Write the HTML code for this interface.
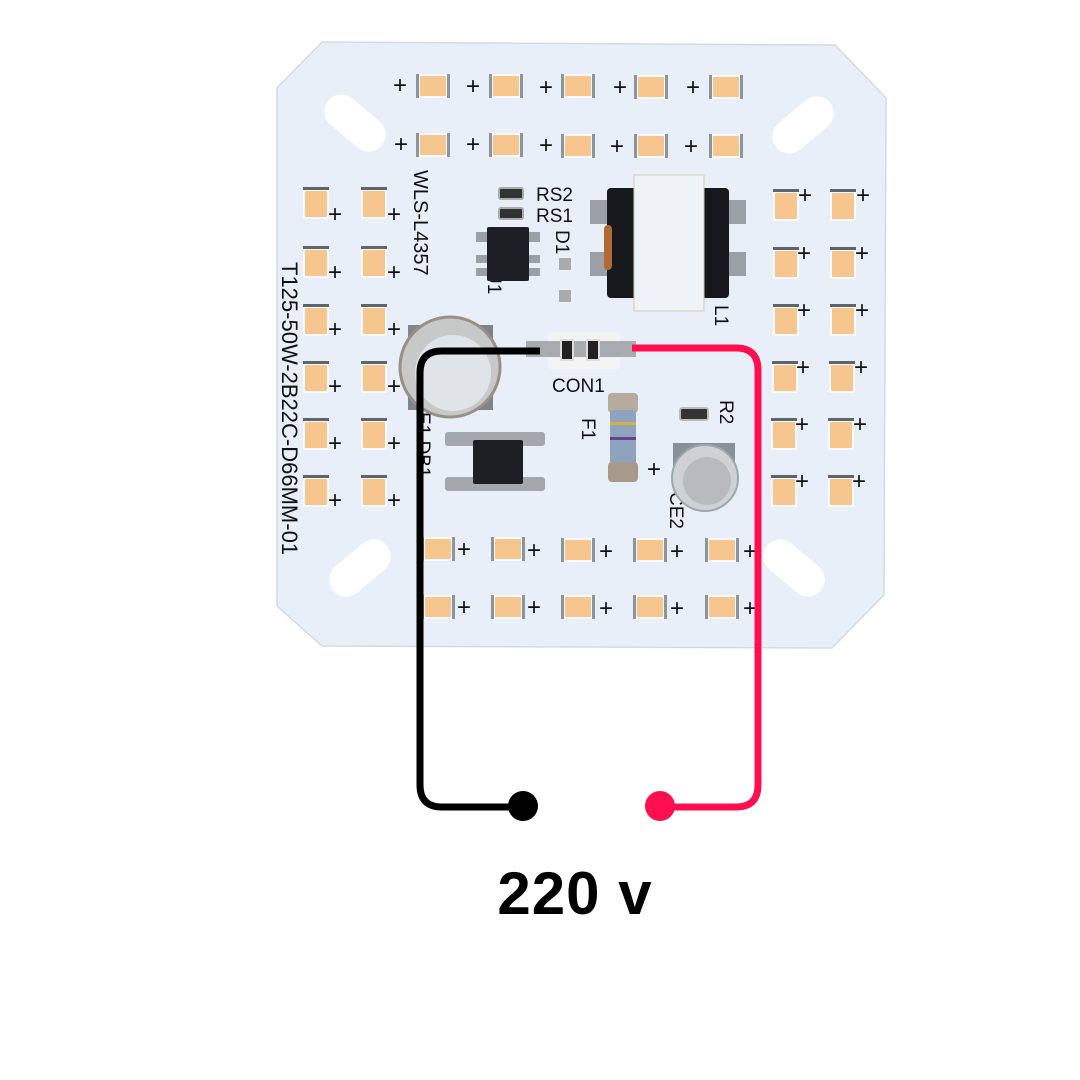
<!DOCTYPE html>
<html><head><meta charset="utf-8"><style>
html,body{margin:0;padding:0;background:#fff;}
svg{display:block;}
text{font-family:"Liberation Sans",sans-serif;}
</style></head><body>
<svg width="1080" height="1080" viewBox="0 0 1080 1080" xmlns="http://www.w3.org/2000/svg">
<defs>
<g id="led">
<rect x="-17" y="-12" width="34" height="24" rx="2" fill="#fbfbfb"/>
<rect x="-17" y="-12" width="3" height="24" fill="#8d949c"/>
<rect x="14" y="-12" width="3" height="24" fill="#8d949c"/>
<rect x="-13" y="-10" width="26" height="20" rx="1" fill="#f7c58e"/>
</g>
<g id="ledv">
<rect x="-13" y="-16" width="26" height="32" rx="2" fill="#fbfbfb"/>
<rect x="-13" y="-16" width="26" height="3" fill="#5d646c"/>
<rect x="-11" y="-12" width="22" height="26" rx="1" fill="#f7c58e"/>
</g>
</defs>
<polygon points="277,88 322,42 835,45 886,98 884,595 832,648 322,646 277,606" fill="#e9eff8" stroke="#d4dae4" stroke-width="1.5"/>
<!-- mounting slots -->
<g fill="#fff">
<rect x="320" y="106" width="70" height="34" rx="17" transform="rotate(40 355 123)"/>
<rect x="768" y="108" width="70" height="34" rx="17" transform="rotate(-40 803 125)"/>
<rect x="325" y="551" width="70" height="34" rx="17" transform="rotate(-40 360 568)"/>
<rect x="759" y="551" width="70" height="34" rx="17" transform="rotate(40 794 568)"/>
</g>
<!-- top rows -->
<g font-size="24" fill="#111">
<use href="#led" x="433" y="86"/><use href="#led" x="506" y="86"/><use href="#led" x="578" y="86"/><use href="#led" x="651" y="87"/><use href="#led" x="726" y="87"/>
<use href="#led" x="433" y="145"/><use href="#led" x="506" y="145"/><use href="#led" x="578" y="146"/><use href="#led" x="651" y="146"/><use href="#led" x="726" y="146"/>
<text x="393" y="93">+</text><text x="466" y="94">+</text><text x="539" y="95">+</text><text x="613" y="95">+</text><text x="686" y="95">+</text>
<text x="394" y="152">+</text><text x="466" y="152">+</text><text x="539" y="153">+</text><text x="610" y="154">+</text><text x="684" y="154">+</text>
</g>
<!-- left columns -->
<g font-size="24" fill="#111">
<use href="#ledv" x="316" y="203"/><use href="#ledv" x="374" y="203"/>
<use href="#ledv" x="316" y="262"/><use href="#ledv" x="374" y="262"/>
<use href="#ledv" x="316" y="320"/><use href="#ledv" x="374" y="320"/>
<use href="#ledv" x="316" y="377"/><use href="#ledv" x="374" y="377"/>
<use href="#ledv" x="316" y="434"/><use href="#ledv" x="374" y="434"/>
<use href="#ledv" x="316" y="491"/><use href="#ledv" x="374" y="491"/>
<text x="328" y="222">+</text><text x="387" y="222">+</text>
<text x="328" y="280">+</text><text x="387" y="280">+</text>
<text x="328" y="337">+</text><text x="387" y="337">+</text>
<text x="328" y="394">+</text><text x="387" y="394">+</text>
<text x="328" y="451">+</text><text x="387" y="451">+</text>
<text x="328" y="508">+</text><text x="387" y="508">+</text>
</g>
<!-- right columns -->
<g font-size="24" fill="#111">
<use href="#ledv" x="786" y="205"/><use href="#ledv" x="843" y="205"/>
<use href="#ledv" x="786" y="263"/><use href="#ledv" x="843" y="263"/>
<use href="#ledv" x="786" y="320"/><use href="#ledv" x="843" y="320"/>
<use href="#ledv" x="785" y="377"/><use href="#ledv" x="842" y="377"/>
<use href="#ledv" x="784" y="434"/><use href="#ledv" x="841" y="434"/>
<use href="#ledv" x="784" y="491"/><use href="#ledv" x="841" y="491"/>
<text x="798" y="203">+</text><text x="856" y="203">+</text>
<text x="797" y="261">+</text><text x="855" y="261">+</text>
<text x="797" y="318">+</text><text x="855" y="318">+</text>
<text x="796" y="375">+</text><text x="854" y="375">+</text>
<text x="795" y="432">+</text><text x="853" y="432">+</text>
<text x="795" y="489">+</text><text x="852" y="489">+</text>
</g>
<!-- bottom rows -->
<g font-size="24" fill="#111">
<use href="#led" x="438" y="549"/><use href="#led" x="508" y="549"/><use href="#led" x="578" y="550"/><use href="#led" x="650" y="550"/><use href="#led" x="722" y="550"/>
<use href="#led" x="438" y="607"/><use href="#led" x="508" y="607"/><use href="#led" x="578" y="607"/><use href="#led" x="650" y="607"/><use href="#led" x="722" y="607"/>
<text x="457" y="557">+</text><text x="527" y="558">+</text><text x="599" y="559">+</text><text x="670" y="559">+</text><text x="743" y="559">+</text>
<text x="457" y="615">+</text><text x="527" y="615">+</text><text x="599" y="616">+</text><text x="670" y="616">+</text><text x="743" y="616">+</text>
</g>
<!-- silkscreen text -->
<g fill="#111" font-size="19">
<text transform="translate(282,262) rotate(90)" font-size="22">T125-50W-2B22C-D66MM-01</text>
<text transform="translate(414,170) rotate(90)" font-size="20">WLS-L4357</text>
<text x="536" y="201">RS2</text><text x="536" y="222">RS1</text>
<text transform="translate(556,230) rotate(90)">D1</text>
<text transform="translate(488,270) rotate(90)">U1</text>
<text transform="translate(715,305) rotate(90)">L1</text>
<text x="552" y="392">CON1</text>
<text transform="translate(582,418) rotate(90)">F1</text>
<text transform="translate(720,400) rotate(90)">R2</text>
<text transform="translate(670,492) rotate(90)">CE2</text>
<text transform="translate(417,412) rotate(90)">E1 DB1</text>
<text x="647" y="477" font-size="24">+</text>
</g>
<!-- small parts -->
<rect x="499" y="188" width="24" height="11" rx="2" fill="#333" stroke="#aaa" stroke-width="2"/>
<rect x="499" y="208" width="24" height="11" rx="2" fill="#333" stroke="#aaa" stroke-width="2"/>
<rect x="476" y="232" width="64" height="10" fill="#9aa0a6"/><rect x="476" y="255" width="64" height="8" fill="#9aa0a6"/><rect x="476" y="268" width="64" height="8" fill="#9aa0a6"/>
<rect x="487" y="227" width="42" height="54" rx="2" fill="#1c1f24"/>
<rect x="559" y="258" width="12" height="12" fill="#aaa"/><rect x="559" y="290" width="12" height="12" fill="#aaa"/>
<!-- inductor -->
<rect x="590" y="200" width="18" height="24" fill="#9aa0a6"/><rect x="590" y="252" width="18" height="24" fill="#9aa0a6"/>
<rect x="728" y="200" width="18" height="24" fill="#9aa0a6"/><rect x="728" y="252" width="18" height="24" fill="#9aa0a6"/>
<rect x="607" y="188" width="122" height="110" rx="4" fill="#16181b"/>
<rect x="604" y="225" width="8" height="45" rx="4" fill="#b26a35"/>
<rect x="634" y="175" width="70" height="136" fill="#eef3f8" stroke="#d8c9b0" stroke-width="1"/>
<!-- big cap E1 -->
<rect x="408" y="325" width="85" height="85" fill="#7d848b"/>
<circle cx="450" cy="367" r="50" fill="#c7c9c8" stroke="#9a8e86" stroke-width="3"/>
<circle cx="453" cy="373" r="38" fill="#dfe4e8"/>
<!-- bridge -->
<rect x="445" y="432" width="100" height="14" rx="3" fill="#a3a8ad"/><rect x="445" y="477" width="100" height="14" rx="3" fill="#a3a8ad"/>
<rect x="473" y="440" width="50" height="44" rx="2" fill="#1c1f24"/>
<!-- CON1 -->
<rect x="548" y="332" width="72" height="37" rx="3" fill="#f3f3f3"/>
<rect x="526" y="341" width="110" height="16" fill="#a7acb1"/>
<rect x="561" y="340" width="12" height="20" fill="#222" stroke="#ddd" stroke-width="2"/>
<rect x="587" y="340" width="12" height="20" fill="#222" stroke="#ddd" stroke-width="2"/>
<!-- fuse -->
<rect x="608" y="393" width="30" height="20" rx="4" fill="#b7aa9e"/>
<rect x="610" y="410" width="26" height="62" rx="4" fill="#8ea3bd"/>
<rect x="610" y="422" width="26" height="3" fill="#d3b13a"/><rect x="610" y="437" width="26" height="3" fill="#6a3f8a"/>
<rect x="608" y="462" width="30" height="20" rx="4" fill="#a89a8a"/>
<rect x="680" y="408" width="28" height="12" rx="2" fill="#333" stroke="#bbb" stroke-width="2"/>
<!-- cap CE2 -->
<rect x="673" y="443" width="62" height="40" fill="#8a9097"/>
<circle cx="705" cy="478" r="33" fill="#cfd2d4" stroke="#9aa" stroke-width="2"/>
<circle cx="707" cy="481" r="24" fill="#b7bbbd"/>
<!-- wires -->
<path d="M540 351 H442 Q420 351 420 373 V785 Q420 807 442 807 H523" fill="none" stroke="#000" stroke-width="7"/>
<circle cx="523" cy="806" r="15" fill="#000"/>
<path d="M632 348 H736 Q758 348 758 370 V785 Q758 807 736 807 H660" fill="none" stroke="#ff0f4f" stroke-width="7"/>
<circle cx="660" cy="806" r="15" fill="#ff0f4f"/>
<text x="575" y="914" font-size="60" font-weight="bold" text-anchor="middle" fill="#000" letter-spacing="1">220 v</text>
</svg>
</body></html>
